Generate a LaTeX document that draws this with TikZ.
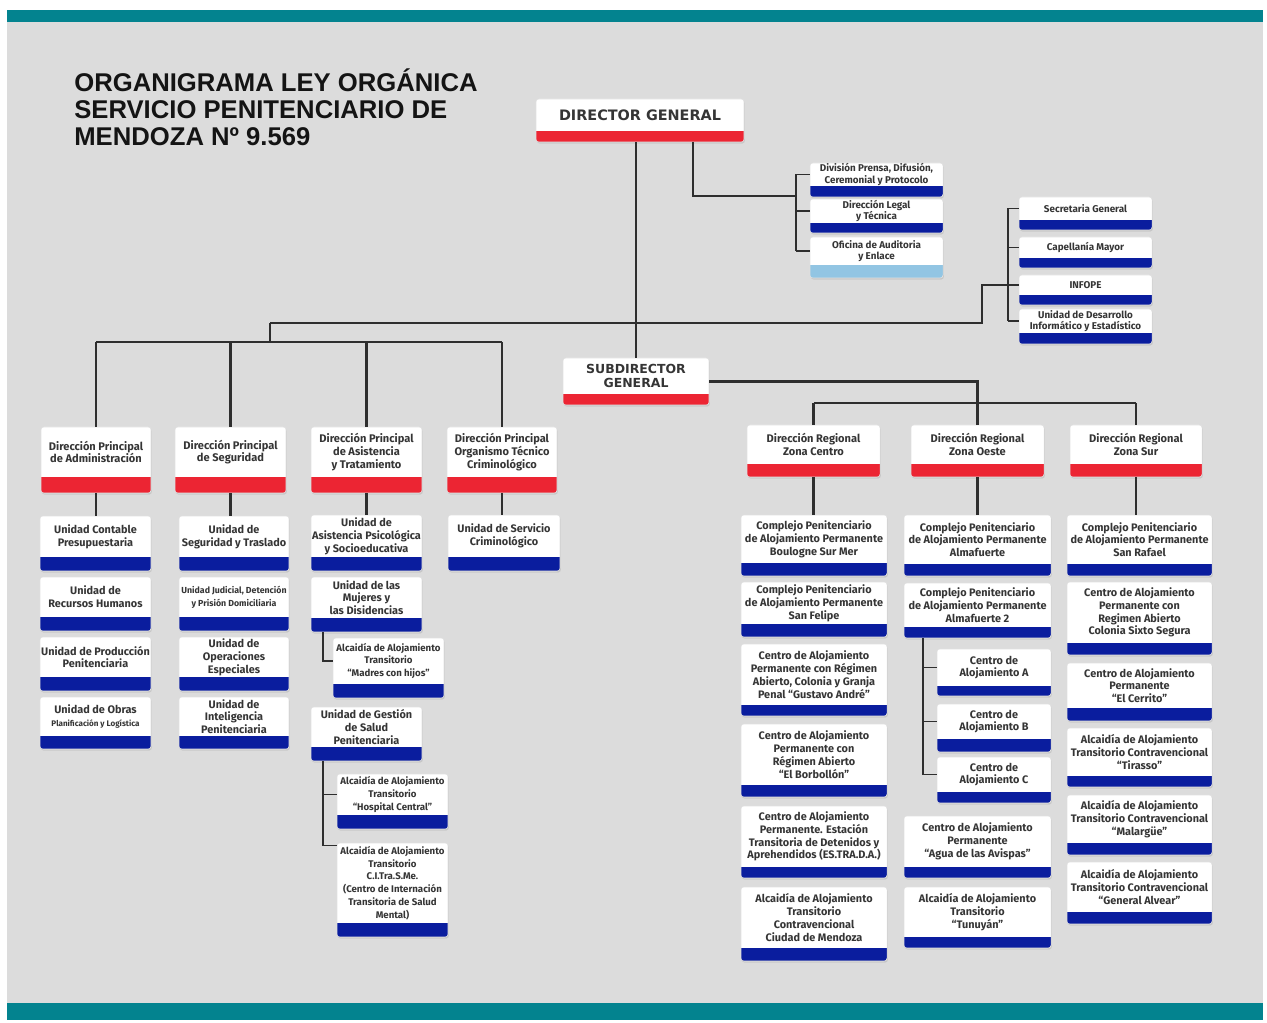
\documentclass[tikz,border=0pt]{standalone}
\usepackage{fontspec}
\setmainfont{Fira Sans}
\newfontfamily\titlefont{Liberation Sans}
\newfontfamily\headfont{DejaVu Sans}
\usetikzlibrary{calc,fit,shadows}
\definecolor{barteal}{HTML}{03838F}
\definecolor{pagegrey}{HTML}{DCDCDC}
\definecolor{bandred}{HTML}{EC2533}
\definecolor{bandblue}{HTML}{0A1D9E}
\definecolor{bandsky}{HTML}{92C5E3}
\definecolor{inkgrey}{HTML}{353535}
\definecolor{linegrey}{HTML}{2E2E2E}
\tikzset{
  card/.style={draw=black!12,line width=0.3pt,fill=white,rounded corners=1.6pt,inner sep=0pt,
    drop shadow={shadow xshift=0.5pt,shadow yshift=-0.9pt,opacity=0.22}},
  cardtext/.style={align=center,inner sep=0pt,text=inkgrey,font=\bfseries\fontsize{6.2}{7.3}\selectfont},
  cardsmall/.style={cardtext,font=\bfseries\fontsize{5.0}{7.3}\selectfont},
  stafftext/.style={cardtext,font=\bfseries\fontsize{5.6}{6.4}\selectfont},
  alctext/.style={cardtext,font=\bfseries\fontsize{5.5}{7.3}\selectfont},
  dirtext/.style={cardtext,font=\bfseries\fontsize{6.3}{7.2}\selectfont},
  headtext/.style={cardtext,font=\headfont\bfseries\fontsize{8.2}{8.2}\selectfont},
  subhead/.style={cardtext,font=\headfont\bfseries\fontsize{7.1}{8.0}\selectfont},
  titletext/.style={anchor=base west,inner sep=0pt,text=black!92,font=\titlefont\bfseries\fontsize{14.6}{15.3}\selectfont},
  link/.style={draw=linegrey,line width=1.2pt},
  sublink/.style={draw=linegrey,line width=0.75pt},
}
\newcommand{\orgbox}[9][bandblue]{% [band colour]{name}{left}{top}{right}{bottom}{band px}{text style}{text}
  \path (#3,#4) coordinate (#2-nw) (#5,#6) coordinate (#2-se);
  % Card with coloured foot
  \node[card,fit=(#2-nw)(#2-se),
    path picture={\fill[#1,sharp corners] (path picture bounding box.south west) rectangle ([yshift=#7*0.02cm]path picture bounding box.south east);}] (#2) {};
  % Label in the white part
  \node[#8] (#2-t) at ({(#3+#5)/2},{(#4+#6-#7)/2}) {#9};
}

\begin{document}
\begin{tikzpicture}[x=0.02cm,y=-0.02cm]
  \useasboundingbox (0,0) rectangle (1267,1023);
  % Page
  \fill[white] (0,0) rectangle (1267,1023);
  \fill[pagegrey] (7,10) rectangle (1263,1020);
  \fill[barteal] (7,10) rectangle (1263,22);
  \fill[barteal] (7,1003) rectangle (1263,1020);
  % Title
  \node[titletext] (title1) at (74,92) {ORGANIGRAMA LEY ORGÁNICA};
  \node[titletext] (title2) at (74,119) {SERVICIO PENITENCIARIO DE};
  \node[titletext] (title3) at (74,146) {MENDOZA Nº 9.569};

  % Top of the chart
  \orgbox[bandred]{dg}{536}{99}{744}{142}{11}{headtext}{DIRECTOR GENERAL}
  \orgbox[bandred]{sd}{563}{358}{709}{405}{11}{subhead}{SUBDIRECTOR\\GENERAL}

  % Staff of the director
  \orgbox{prensa}{810}{163}{943}{197}{11}{stafftext}{División Prensa, Difusión,\\Ceremonial y Protocolo}
  \orgbox{legal}{810}{199}{943}{233}{10}{stafftext}{Dirección Legal\\y Técnica}
  \orgbox[bandsky]{auditoria}{810}{237}{943}{278}{13}{stafftext}{Oficina de Auditoria\\y Enlace}
  \orgbox{secretaria}{1019}{197}{1152}{230}{10}{stafftext}{Secretaria General}
  \orgbox{capellania}{1019}{237}{1152}{268}{10}{stafftext}{Capellanía Mayor}
  \orgbox{infope}{1019}{275}{1152}{305}{10}{stafftext}{INFOPE}
  \orgbox{desarrollo}{1019}{309}{1152}{344}{11}{stafftext}{Unidad de Desarrollo\\Informático y Estadístico}

  % Principal directorates
  \orgbox[bandred]{admin}{41}{427}{151}{493}{16}{dirtext}{Dirección Principal\\de Administración}
  \orgbox[bandred]{seg}{175}{427}{286}{493}{16}{dirtext}{Dirección Principal\\de Seguridad}
  \orgbox[bandred]{asist}{311}{427}{422}{493}{16}{dirtext}{Dirección Principal\\de Asistencia\\y Tratamiento}
  \orgbox[bandred]{organ}{447}{427}{557}{493}{16}{dirtext}{Dirección Principal\\Organismo Técnico\\Criminológico}

  % Regional directorates
  \orgbox[bandred]{centro}{747}{425}{880}{477}{13}{dirtext}{Dirección Regional\\Zona Centro}
  \orgbox[bandred]{oeste}{911}{425}{1044}{477}{13}{dirtext}{Dirección Regional\\Zona Oeste}
  \orgbox[bandred]{sur}{1070}{425}{1202}{477}{13}{dirtext}{Dirección Regional\\Zona Sur}

  % Administracion
  \orgbox{uc}{40}{516}{151}{571}{14}{cardtext}{Unidad Contable\\Presupuestaria}
  \orgbox{urh}{40}{577}{151}{631}{14}{cardtext}{Unidad de\\Recursos Humanos}
  \orgbox{upp}{40}{637}{151}{691}{14}{cardtext}{Unidad de Producción\\Penitenciaria}
  \orgbox{uob}{40}{697}{151}{749}{13}{cardtext}{Unidad de Obras\\{\fontsize{4.6}{7.3}\selectfont Planificación y Logística}}

  % Seguridad
  \orgbox{ust}{179}{516}{289}{571}{14}{cardtext}{Unidad de\\Seguridad y Traslado}
  \orgbox{ujd}{179}{577}{289}{631}{14}{cardsmall}{Unidad Judicial, Detención\\y Prisión Domiciliaria}
  \orgbox{uoe}{179}{637}{289}{691}{14}{cardtext}{Unidad de\\Operaciones\\Especiales}
  \orgbox{uip}{179}{697}{289}{749}{13}{cardtext}{Unidad de\\Inteligencia\\Penitenciaria}

  % Asistencia y Tratamiento
  \orgbox{uap}{311}{515}{422}{571}{14}{cardtext}{Unidad de\\Asistencia Psicológica\\y Socioeducativa}
  \orgbox{umd}{311}{577}{422}{632}{14}{cardtext}{Unidad de las\\Mujeres y\\las Disidencias}
  \orgbox{amh}{333}{638}{444}{698}{14}{alctext}{Alcaidía de Alojamiento\\Transitorio\\``Madres con hijos''}
  \orgbox{ugs}{311}{707}{422}{761}{14}{cardtext}{Unidad de Gestión\\de Salud\\Penitenciaria}
  \orgbox{ahc}{337}{774}{448}{829}{14}{alctext}{Alcaidía de Alojamiento\\Transitorio\\``Hospital Central''}
  \orgbox{acm}{337}{843}{448}{937}{14}{alctext}{Alcaidía de Alojamiento\\Transitorio\\C.I.Tra.S.Me.\\(Centro de Internación\\Transitoria de Salud\\Mental)}

  % Organismo Tecnico
  \orgbox{usc}{448}{515}{560}{571}{14}{cardtext}{Unidad de Servicio\\Criminológico}

  % Zona Centro
  \orgbox{cbsm}{741}{515}{887}{576}{13}{cardtext}{Complejo Penitenciario\\de Alojamiento Permanente\\Boulogne Sur Mer}
  \orgbox{csf}{741}{582}{887}{637}{13}{cardtext}{Complejo Penitenciario\\de Alojamiento Permanente\\San Felipe}
  \orgbox{cga}{741}{644}{887}{716}{11}{cardtext}{Centro de Alojamiento\\Permanente con Régimen\\Abierto, Colonia y Granja\\Penal ``Gustavo André''}
  \orgbox{ceb}{741}{724}{887}{797}{12}{cardtext}{Centro de Alojamiento\\Permanente con\\Régimen Abierto\\``El Borbollón''}
  \orgbox{ces}{741}{806}{887}{878}{11}{cardtext}{Centro de Alojamiento\\Permanente. Estación\\Transitoria de Detenidos y\\Aprehendidos (ES.TRA.D.A.)}
  \orgbox{acd}{741}{887}{887}{961}{13}{cardtext}{Alcaidía de Alojamiento\\Transitorio\\Contravencional\\Ciudad de Mendoza}

  % Zona Oeste
  \orgbox{caa}{904}{515}{1051}{576}{12}{cardtext}{Complejo Penitenciario\\de Alojamiento Permanente\\Almafuerte}
  \orgbox{caa2}{904}{583}{1051}{638}{11}{cardtext}{Complejo Penitenciario\\de Alojamiento Permanente\\Almafuerte 2}
  \orgbox{cla}{937}{649}{1051}{696}{10}{cardtext}{Centro de\\Alojamiento A}
  \orgbox{clb}{937}{704}{1051}{752}{13}{cardtext}{Centro de\\Alojamiento B}
  \orgbox{clc}{937}{757}{1051}{803}{11}{cardtext}{Centro de\\Alojamiento C}
  \orgbox{cav}{904}{816}{1051}{878}{11}{cardtext}{Centro de Alojamiento\\Permanente\\``Agua de las Avispas''}
  \orgbox{atu}{904}{887}{1051}{948}{11}{cardtext}{Alcaidía de Alojamiento\\Transitorio\\``Tunuyán''}

  % Zona Sur
  \orgbox{csr}{1067}{515}{1212}{576}{12}{cardtext}{Complejo Penitenciario\\de Alojamiento Permanente\\San Rafael}
  \orgbox{css}{1067}{582}{1212}{655}{12}{cardtext}{Centro de Alojamiento\\Permanente con\\Regimen Abierto\\Colonia Sixto Segura}
  \orgbox{cec}{1067}{663}{1212}{721}{13}{cardtext}{Centro de Alojamiento\\Permanente\\``El Cerrito''}
  \orgbox{ati}{1067}{728}{1212}{787}{11}{cardtext}{Alcaidía de Alojamiento\\Transitorio Contravencional\\``Tirasso''}
  \orgbox{ama}{1067}{795}{1212}{855}{12}{cardtext}{Alcaidía de Alojamiento\\Transitorio Contravencional\\``Malargüe''}
  \orgbox{aga}{1067}{862}{1212}{924}{12}{cardtext}{Alcaidía de Alojamiento\\Transitorio Contravencional\\``General Alvear''}

  % Connectors
  \coordinate (dgtap) at (693,142);
  \coordinate (busA) at (796,196);
  \coordinate (busB) at (1008,0);
  \coordinate (hubL) at (270,323);
  \coordinate (hubR) at (982,323);
  \coordinate (rowL) at (0,342);
  \coordinate (rowZ) at (0,403);
  \coordinate (busM) at (323,0);
  \coordinate (busO) at (923,0);

  \draw[link] (sd.north |- dg.south) -- (sd.north);
  \draw[sublink] (dgtap) |- (busA);
  \draw[sublink] (busA |- prensa-t) -- (busA |- auditoria-t);
  \foreach \s in {prensa,legal,auditoria}
    \draw[sublink] (busA |- \s-t) -- (\s.west |- \s-t);
  \draw[link] (hubL) -- (hubR) |- (infope.west |- infope-t);
  \draw[sublink] (busB |- secretaria-t) -- (busB |- desarrollo-t);
  \foreach \s in {secretaria,capellania,desarrollo}
    \draw[sublink] (busB |- \s-t) -- (\s.west |- \s-t);

  \draw[link] (hubL) -- (hubL |- rowL);
  \draw[link] (admin.north |- rowL) -- (organ.north |- rowL);
  \foreach \d in {admin,seg,asist,organ}
    \draw[link] (\d.north |- rowL) -- (\d.north);
  \draw[link] (admin.south) -- (admin.south |- uc.north);
  \draw[link] (seg.south) -- (seg.south |- ust.north);
  \draw[link] (asist.south) -- (asist.south |- uap.north);
  \draw[link] (organ.south) -- (organ.south |- usc.north);

  \draw[link] (sd.east) -| (oeste.north);
  \draw[link] (centro.north |- rowZ) -- (sur.north |- rowZ);
  \foreach \z in {centro,sur}
    \draw[link] (\z.north |- rowZ) -- (\z.north);
  \draw[link] (centro.south) -- (centro.south |- cbsm.north);
  \draw[link] (oeste.south) -- (oeste.south |- caa.north);
  \draw[link] (sur.south) -- (sur.south |- csr.north);

  \draw[sublink] (busM |- umd.south) |- (amh.west |- amh-t);
  \draw[sublink] (busM |- ugs.south) -- (busM |- acm-t.north);
  \draw[sublink] (busM |- ahc-t) -- (ahc.west |- ahc-t);
  \draw[sublink] (busM |- acm-t.north) -- (acm.west |- acm-t.north);
  \draw[sublink] (busO |- caa2.south) -- (busO |- clc-t);
  \foreach \c in {cla,clb,clc}
    \draw[sublink] (busO |- \c-t) -- (\c.west |- \c-t);
\end{tikzpicture}
\end{document}
